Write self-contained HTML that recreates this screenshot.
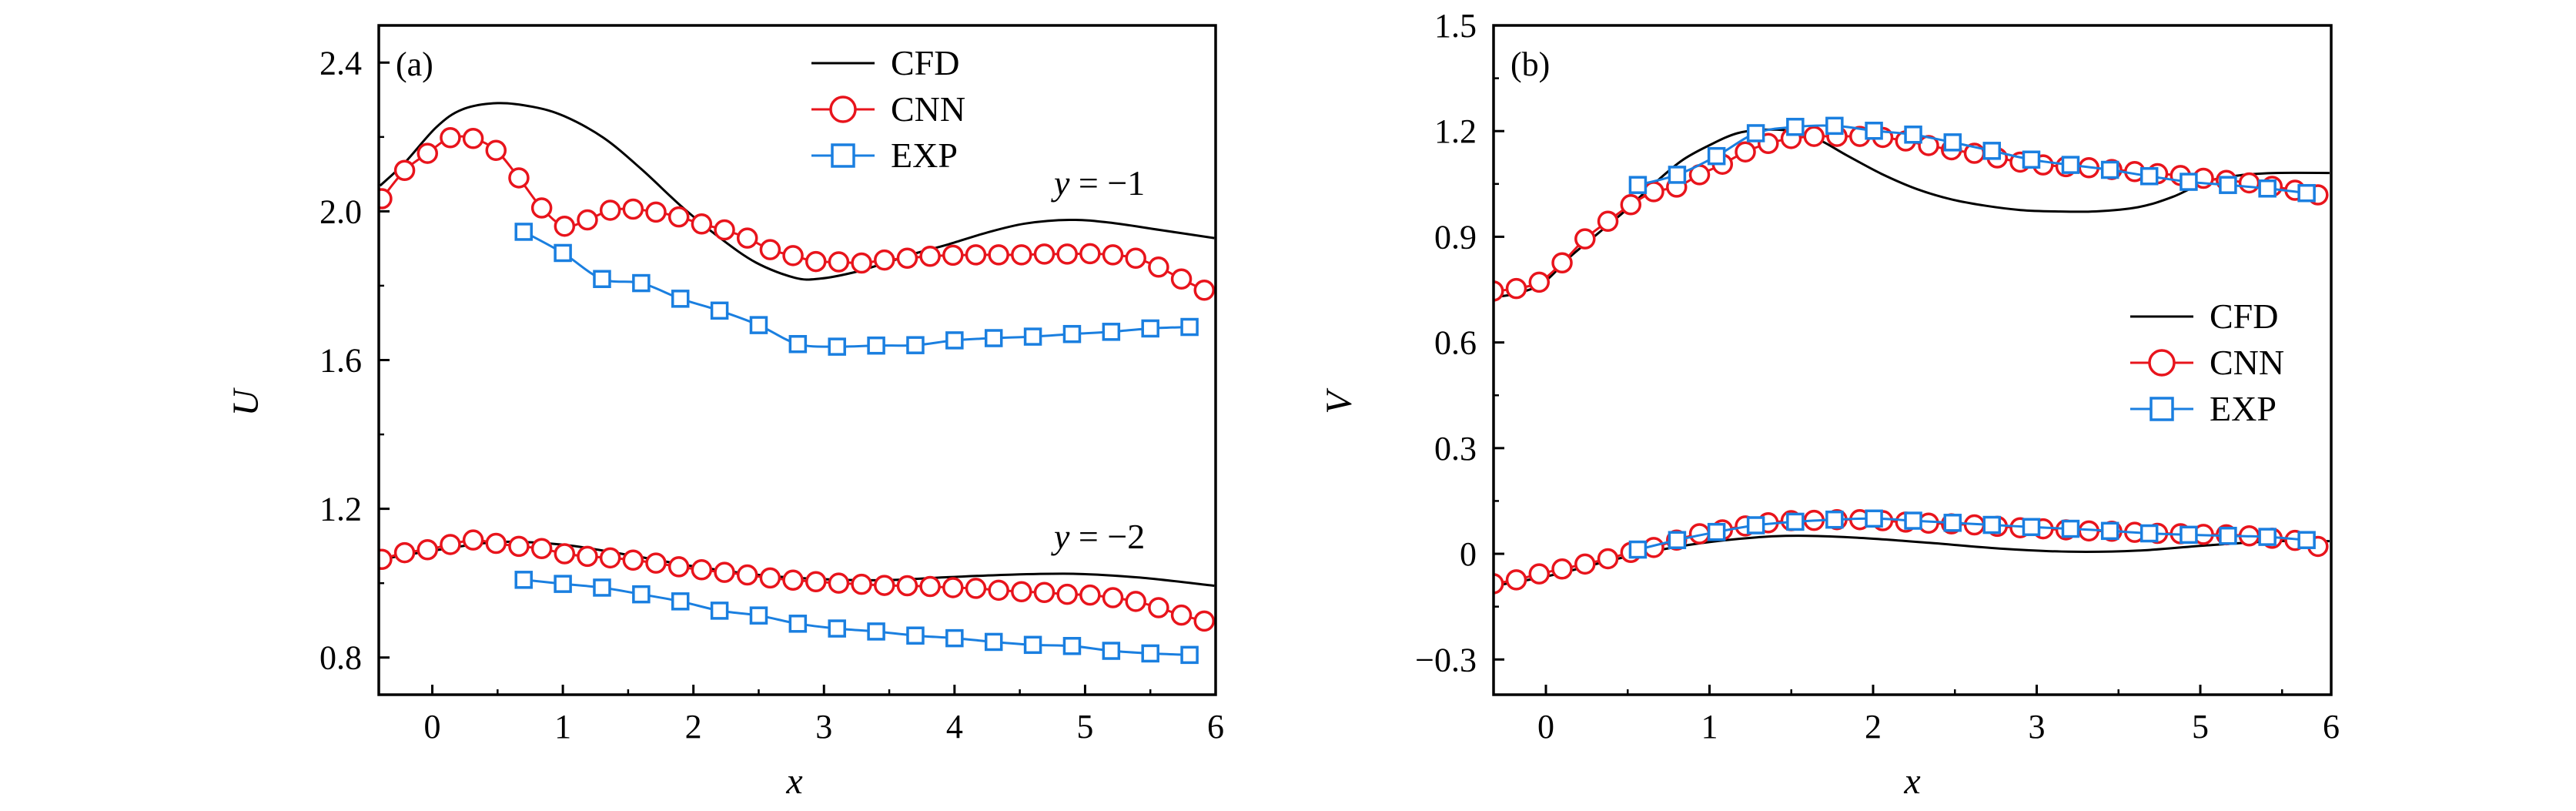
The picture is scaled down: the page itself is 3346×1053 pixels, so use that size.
<!DOCTYPE html>
<html><head><meta charset="utf-8"><style>
html,body{margin:0;padding:0;background:#fff;}
svg{display:block;font-family:"Liberation Serif",serif;}
</style></head><body>
<svg id="chart" width="3346" height="1053" viewBox="0 0 3346 1053" xmlns="http://www.w3.org/2000/svg">
<rect width="3346" height="1053" fill="#fff"/>
<g id="pa"></g>
<g id="pb"></g>
</svg>
<script>
// Panel (a) data
const aCnnX = [-0.387,-0.212,-0.037,0.138,0.313,0.488,0.663,0.838,1.013,1.188,1.363,1.538,1.713,1.888,2.063,2.238,2.413,2.588,2.763,2.938,3.113,3.288,3.463,3.638,3.813,3.988,4.163,4.338,4.513,4.688,4.863,5.038,5.213,5.388,5.563,5.738,5.913];
const aCnnUp = [2.034,2.110,2.156,2.198,2.196,2.164,2.090,2.009,1.960,1.977,2.003,2.006,1.998,1.985,1.966,1.950,1.928,1.897,1.881,1.865,1.864,1.861,1.869,1.874,1.879,1.882,1.883,1.883,1.883,1.885,1.885,1.886,1.883,1.874,1.850,1.818,1.788];
const aCnnLo = [1.064,1.082,1.090,1.104,1.116,1.107,1.099,1.093,1.079,1.072,1.068,1.062,1.054,1.044,1.036,1.029,1.022,1.014,1.008,1.004,1.000,0.997,0.994,0.993,0.991,0.988,0.986,0.981,0.977,0.975,0.970,0.968,0.961,0.951,0.934,0.914,0.898];
const aCfdUpX = [-0.4,-0.21,0.03,0.23,0.50,0.77,1.01,1.31,1.60,1.90,2.19,2.48,2.78,2.97,3.22,3.46,3.71,3.95,4.25,4.54,4.88,5.18,5.57,5.99];
const aCfdUp = [2.069,2.131,2.226,2.274,2.291,2.281,2.256,2.198,2.114,2.016,1.932,1.862,1.821,1.819,1.835,1.860,1.888,1.911,1.943,1.967,1.977,1.970,1.950,1.928];
const aCfdLoX = [-0.4,0.035,0.52,1.01,1.50,1.99,2.48,2.97,3.46,3.95,4.44,4.93,5.42,5.99];
const aCfdLo = [1.064,1.089,1.111,1.103,1.076,1.046,1.023,1.011,1.008,1.016,1.023,1.025,1.015,0.993];
const aExpX = [0.7,1.0,1.3,1.6,1.9,2.2,2.5,2.8,3.1,3.4,3.7,4.0,4.3,4.6,4.9,5.2,5.5,5.8];
const aExpUp = [1.945,1.888,1.818,1.807,1.765,1.733,1.694,1.643,1.636,1.639,1.640,1.653,1.659,1.663,1.670,1.676,1.685,1.689];
const aExpLo = [1.009,0.998,0.988,0.970,0.951,0.926,0.913,0.891,0.878,0.870,0.859,0.852,0.842,0.834,0.831,0.818,0.811,0.807];
const aYTicks = [0.8,1.2,1.6,2.0,2.4];
const aYTickLabels = ["0.8","1.2","1.6","2.0","2.4"];
const aXTicks = [0,1,2,3,4,5,6];
const aXTickLabels = ["0","1","2","3","4","5","6"];

// Panel (b) data (x in axis index units; tick labels as printed)
const bCnnX = [-0.321,-0.181,-0.041,0.099,0.239,0.379,0.519,0.659,0.799,0.939,1.079,1.219,1.359,1.499,1.639,1.779,1.919,2.059,2.199,2.339,2.479,2.619,2.759,2.899,3.039,3.179,3.319,3.459,3.599,3.739,3.879,4.019,4.159,4.299,4.439,4.579,4.719];
const bCnnUp = [0.746,0.753,0.771,0.826,0.894,0.944,0.991,1.028,1.041,1.076,1.106,1.141,1.165,1.179,1.185,1.185,1.185,1.182,1.172,1.159,1.147,1.137,1.124,1.112,1.104,1.099,1.096,1.091,1.085,1.079,1.074,1.066,1.060,1.053,1.043,1.032,1.019];
const bCnnLo = [-0.085,-0.074,-0.057,-0.043,-0.029,-0.014,0.004,0.018,0.039,0.057,0.068,0.079,0.088,0.094,0.095,0.097,0.097,0.094,0.090,0.087,0.085,0.082,0.078,0.074,0.071,0.068,0.065,0.064,0.061,0.058,0.057,0.055,0.054,0.051,0.044,0.038,0.021];
const bCfdUpX = [-0.32,-0.19,-0.02,0.15,0.32,0.49,0.66,0.83,1.00,1.17,1.34,1.50,1.67,1.84,2.05,2.27,2.48,2.69,2.90,3.11,3.36,3.62,3.83,4.04,4.25,4.46,4.79];
const bCfdUp = [0.729,0.738,0.768,0.844,0.910,0.976,1.050,1.116,1.160,1.194,1.204,1.200,1.175,1.131,1.079,1.035,1.006,0.988,0.976,0.972,0.972,0.984,1.013,1.057,1.075,1.081,1.081];
const bCfdLoX = [-0.32,0.025,0.448,0.87,1.294,1.59,1.928,2.35,2.773,3.195,3.618,4.04,4.463,4.79];
const bCfdLo = [-0.091,-0.062,-0.013,0.025,0.047,0.051,0.045,0.031,0.015,0.006,0.009,0.024,0.036,0.036];
const bExpX = [0.562,0.802,1.043,1.283,1.524,1.764,2.005,2.245,2.486,2.726,2.967,3.207,3.448,3.688,3.929,4.169,4.410,4.650];
const bExpUp = [1.047,1.076,1.129,1.194,1.212,1.215,1.201,1.190,1.168,1.144,1.119,1.104,1.090,1.072,1.056,1.047,1.037,1.024];
const bExpLo = [0.012,0.039,0.062,0.081,0.091,0.097,0.100,0.094,0.088,0.082,0.076,0.071,0.065,0.058,0.054,0.051,0.048,0.039];
const bYTicks = [-0.3,0,0.3,0.6,0.9,1.2,1.5];
const bYTickLabels = ["\u22120.3","0","0.3","0.6","0.9","1.2","1.5"];
const bXTicks = [0,1,2,3,4,4.8];
const bXTickLabels = ["0","1","2","3","5","6"];

const NS = "http://www.w3.org/2000/svg";
function mk(parent, tag, attrs, text){
  const e = document.createElementNS(NS, tag);
  for (const k in attrs) e.setAttribute(k, attrs[k]);
  if (text !== undefined) e.textContent = text;
  parent.appendChild(e);
  return e;
}
const RED = "#e8141c", BLUE = "#1a7fe0";

function smoothPath(pts){
  let d = "M" + pts[0][0].toFixed(1) + "," + pts[0][1].toFixed(1);
  for (let i = 0; i < pts.length - 1; i++) {
    const p0 = pts[Math.max(0, i-1)], p1 = pts[i], p2 = pts[i+1], p3 = pts[Math.min(pts.length-1, i+2)];
    const c1x = p1[0] + (p2[0]-p0[0])/6, c1y = p1[1] + (p2[1]-p0[1])/6;
    const c2x = p2[0] - (p3[0]-p1[0])/6, c2y = p2[1] - (p3[1]-p1[1])/6;
    d += " C" + c1x.toFixed(1) + "," + c1y.toFixed(1) + " " + c2x.toFixed(1) + "," + c2y.toFixed(1) + " " + p2[0].toFixed(1) + "," + p2[1].toFixed(1);
  }
  return d;
}

function panel(g, P){
  const sx = v => P.x0 + (v - P.xmin) / (P.xmax - P.xmin) * (P.x1 - P.x0);
  const sy = v => P.y1 - (v - P.ymin) / (P.ymax - P.ymin) * (P.y1 - P.y0);
  P.xTicks.forEach((t, i) => {
    const X = sx(t);
    if (t > P.xmin + 0.01 && t < P.xmax - 0.01) {
      const tk = mk(g, "line", {x1:X, x2:X, y1:P.y1, y2:P.y1-13, stroke:"#000", "stroke-width":3});
      
      
    }
    const lb = mk(g, "text", {x:X, y:P.y1+56, "text-anchor":"middle", "font-size":44}, P.xTickLabels[i]);
    
    
  });
  for (let t = Math.ceil(P.xmin/0.5)*0.5; t < P.xmax; t += 0.5) {
    if (Math.abs(t - Math.round(t)) < 0.01) continue;
    const X = sx(t);
    const mt = mk(g, "line", {x1:X, x2:X, y1:P.y1, y2:P.y1-7, stroke:"#000", "stroke-width":2.5});
    
    
  }
  P.yTicks.forEach((t, i) => {
    const Y = sy(t);
    if (t > P.ymin + 0.001 && t < P.ymax - 0.001) {
      const tk = mk(g, "line", {x1:P.x0, x2:P.x0+14, y1:Y, y2:Y, stroke:"#000", "stroke-width":3});
      
      
    }
    const lb = mk(g, "text", {x:P.x0-22, y:Y+15, "text-anchor":"end", "font-size":44}, P.yTickLabels[i]);
    
    
  });
  P.yMinor.forEach(t => {
    const Y = sy(t);
    const mt = mk(g, "line", {x1:P.x0, x2:P.x0+7, y1:Y, y2:Y, stroke:"#000", "stroke-width":2.5});
    
    
  });
  const clip = "clip" + P.id;
  const cp = mk(mk(g, "defs", {}), "clipPath", {id:clip});
  mk(cp, "rect", {x:P.x0, y:P.y0, width:P.x1-P.x0, height:P.y1-P.y0});
  const plot = mk(g, "g", {"clip-path":"url(#"+clip+")"});
  
  
  function line(xs, ys, color, name){
    const pts = xs.map((x, i) => [sx(x), sy(ys[i])]);
    const pl = mk(plot, "path", {d:smoothPath(pts), fill:"none", stroke:color, "stroke-width":3, "stroke-linejoin":"round"});
    
    
  }
  function circles(xs, ys, name){
    xs.forEach((x, i) => {
      const c = mk(plot, "circle", {cx:sx(x), cy:sy(ys[i]), r:12, fill:"#fff", stroke:RED, "stroke-width":3.5});
      
      
    });
  }
  function squares(xs, ys, name){
    xs.forEach((x, i) => {
      const s = mk(plot, "rect", {x:sx(x)-10, y:sy(ys[i])-10, width:20, height:20, fill:"#fff", stroke:BLUE, "stroke-width":3.5});
      
      
    });
  }
  P.series.forEach(s => {
    if (s.type === "cfd") line(s.x, s.y, "#000", s.name);
    if (s.type === "cnn") { line(s.x, s.y, RED, s.name + "-line"); circles(s.x, s.y, s.name + "-marker"); }
    if (s.type === "exp") { line(s.x, s.y, BLUE, s.name + "-line"); squares(s.x, s.y, s.name + "-marker"); }
  });
  const fr = mk(g, "rect", {x:P.x0, y:P.y0, width:P.x1-P.x0, height:P.y1-P.y0, fill:"none", stroke:"#000", "stroke-width":3.5});
  
  
  const L = P.legend;
  const lg = mk(g, "g", {});
  
  
  [["CFD","#000"],["CNN",RED],["EXP",BLUE]].forEach((e, i) => {
    const y = L.y + i*60;
    const it = mk(lg, "g", {});
    
    
    mk(it, "line", {x1:L.x, x2:L.x+82, y1:y, y2:y, stroke:e[1], "stroke-width":3});
    if (i === 1) mk(it, "circle", {cx:L.x+41, cy:y, r:16, fill:"#fff", stroke:RED, "stroke-width":3.5});
    if (i === 2) mk(it, "rect", {x:L.x+27, y:y-14, width:28, height:28, fill:"#fff", stroke:BLUE, "stroke-width":3.5});
    mk(it, "text", {x:L.x+103, y:y+15, "font-size":46}, e[0]);
  });
}

panel(document.getElementById("pa"), {
  id:"a", x0:492, x1:1579, y0:33, y1:902, xmin:-0.41, xmax:6, ymin:0.7, ymax:2.5,
  xTicks:aXTicks, xTickLabels:aXTickLabels, yTicks:aYTicks, yTickLabels:aYTickLabels,
  yMinor:[1.0,1.4,1.8,2.2],
  legend:{x:1054, y:82},
  series:[
    {type:"cfd", x:aCfdUpX, y:aCfdUp, name:"cfd-upper"},
    {type:"cfd", x:aCfdLoX, y:aCfdLo, name:"cfd-lower"},
    {type:"exp", x:aExpX, y:aExpUp, name:"exp-upper"},
    {type:"exp", x:aExpX, y:aExpLo, name:"exp-lower"},
    {type:"cnn", x:aCnnX, y:aCnnUp, name:"cnn-upper"},
    {type:"cnn", x:aCnnX, y:aCnnLo, name:"cnn-lower"}
  ]
});
panel(document.getElementById("pb"), {
  id:"b", x0:1940, x1:3028, y0:33, y1:902, xmin:-0.32, xmax:4.8, ymin:-0.4, ymax:1.5,
  xTicks:bXTicks, xTickLabels:bXTickLabels, yTicks:bYTicks, yTickLabels:bYTickLabels,
  yMinor:[-0.15,0.15,0.45,0.75,1.05,1.35],
  legend:{x:2767, y:411},
  series:[
    {type:"cfd", x:bCfdUpX, y:bCfdUp, name:"cfd-upper"},
    {type:"cfd", x:bCfdLoX, y:bCfdLo, name:"cfd-lower"},
    {type:"cnn", x:bCnnX, y:bCnnUp, name:"cnn-upper"},
    {type:"cnn", x:bCnnX, y:bCnnLo, name:"cnn-lower"},
    {type:"exp", x:bExpX, y:bExpUp, name:"exp-upper"},
    {type:"exp", x:bExpX, y:bExpLo, name:"exp-lower"}
  ]
});
</script>
<svg style="position:absolute;left:0;top:0" width="3346" height="1053">
  <text x="514" y="98" font-size="44" font-family="Liberation Serif, serif">(a)</text>
  <text x="1962" y="98" font-size="44" font-family="Liberation Serif, serif">(b)</text>
  <text x="1369" y="253" font-size="46" font-family="Liberation Serif, serif"><tspan font-style="italic">y</tspan> = −1</text>
  <text x="1369" y="712" font-size="46" font-family="Liberation Serif, serif"><tspan font-style="italic">y</tspan> = −2</text>
  <text x="1032" y="1030" font-size="48" font-style="italic" text-anchor="middle" font-family="Liberation Serif, serif">x</text>
  <text x="2484" y="1030" font-size="48" font-style="italic" text-anchor="middle" font-family="Liberation Serif, serif">x</text>
  <text x="335" y="523" font-size="48" font-style="italic" text-anchor="middle" transform="rotate(-90 335 523)" font-family="Liberation Serif, serif">U</text>
  <text x="1755" y="523" font-size="48" font-style="italic" text-anchor="middle" transform="rotate(-90 1755 523)" font-family="Liberation Serif, serif">V</text>
</svg>
</body></html>
